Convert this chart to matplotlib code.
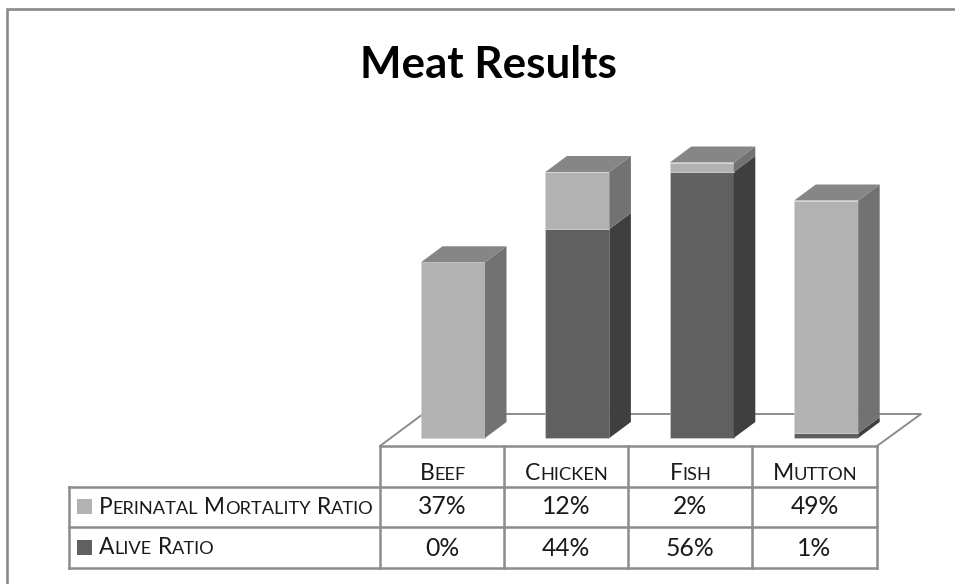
#!/usr/bin/env python3
"""Meat results: fake-3D stacked columns with a data table below."""

import matplotlib
matplotlib.use("Agg")
import matplotlib.pyplot as plt
from matplotlib.patches import Polygon, Rectangle

categories = ["Beef", "Chicken", "Fish", "Mutton"]
perinatal = [37, 12, 2, 49]
alive = [0, 44, 56, 1]
series_names = ["Perinatal Mortality Ratio", "Alive Ratio"]

W, H = 955, 584
FONT = "Lato"
LINE = "#8c8c8c"
LIGHT = ("#b2b2b2", "#727272")
DARK = ("#606060", "#3f3f3f")
TOP = "#868686"

PX_PER_PCT = 4.75
BASE_Y = 438
COL_W = 124.4
FIRST_X = 453
BAR_W = 64
DX, DY = 21.5, 16

fig = plt.figure(figsize=(W / 100, H / 100), dpi=100)
fig.patch.set_facecolor("white")

# overlay axes in pixels, y down, for frame and table
pax = fig.add_axes([0, 0, 1, 1])
pax.set_xlim(0, W)
pax.set_ylim(H, 0)
pax.axis("off")

# bar axes: x in category index, y in percent
ax = fig.add_axes([0, 0, 1, 1], facecolor="none")
ax.set_xlim(-FIRST_X / COL_W, (W - FIRST_X) / COL_W)
ax.set_ylim(-(H - BASE_Y) / PX_PER_PCT, BASE_Y / PX_PER_PCT)
ax.axis("off")

ddx = DX / COL_W
ddy = DY / PX_PER_PCT
hw = BAR_W / 2 / COL_W


def smallcaps(x, y, text, size, ha="left"):
    """Small caps by runs, since matplotlib has none."""
    runs = []
    for ch in text:
        big = not ch.islower()
        if runs and runs[-1][1] == big:
            runs[-1][0] += ch.upper()
        else:
            runs.append([ch.upper(), big])
    rend = fig.canvas.get_renderer()
    items = []
    total = 0
    for s, big in runs:
        t = pax.text(0, y, s.replace(" ", "\u00a0"), fontsize=size if big else size * 0.8,
                     family=FONT, color="#1a1a1a", va="baseline")
        w = t.get_window_extent(rend).width
        items.append((t, w))
        total += w
    cur = x - total / 2 if ha == "center" else x
    for t, w in items:
        t.set_x(cur)
        cur += w


# only the top and left edges of the chart frame show in the crop
pax.plot([W, 7, 7], [9, 9, H], color="#8a8a8a", lw=1.9, solid_joinstyle="miter")
pax.text(488, 65, "Meat Results", fontsize=31.7, fontweight="bold", family=FONT,
         color="black", ha="center", va="center")

# floor
cols_x = [380, 504, 628, 752, 877]
rows_y = [446, 487, 527, 568]
pax.plot([cols_x[0], cols_x[0] + 43, cols_x[-1] + 44, cols_x[-1]],
         [rows_y[0], 414, 414, rows_y[0]], color=LINE, lw=1.4)

# table grid
kw = dict(color=LINE, lw=1.8, solid_capstyle="projecting")
pax.plot([cols_x[0], cols_x[-1]], [rows_y[0]] * 2, **kw)
for yy in rows_y[1:]:
    pax.plot([69, cols_x[-1]], [yy, yy], **kw)
pax.plot([69, 69], [rows_y[1], rows_y[3]], **kw)
for xx in cols_x:
    pax.plot([xx, xx], [rows_y[0], rows_y[3]], **kw)

# stacked columns, dark at the bottom
for i in range(len(categories)):
    bottom = 0
    for val, (front, side) in zip([alive[i], perinatal[i]], [DARK, LIGHT]):
        if val == 0:
            continue
        ax.bar(i, val, BAR_W / COL_W, bottom=bottom, color=front, edgecolor="#d4d4d4", lw=0.4)
        ax.add_patch(Polygon([(i + hw, bottom), (i + hw + ddx, bottom + ddy),
                              (i + hw + ddx, bottom + val + ddy), (i + hw, bottom + val)],
                             fc=side, ec="none"))
        bottom += val
    ax.add_patch(Polygon([(i - hw, bottom), (i - hw + ddx, bottom + ddy),
                          (i + hw + ddx, bottom + ddy), (i + hw, bottom)], fc=TOP, ec="none"))

# table text
for i, name in enumerate(categories):
    smallcaps((cols_x[i] + cols_x[i + 1]) / 2 + 0.5, 479.5, name, 16.5, ha="center")
for r, vals in enumerate([perinatal, alive]):
    for i, v in enumerate(vals):
        pax.text((cols_x[i] + cols_x[i + 1]) / 2, 514.5 + r * 41, f"{v}%", fontsize=17.8,
                 family=FONT, color="#1a1a1a", ha="center", va="baseline")
    smallcaps(99, 513.5 + r * 41, series_names[r], 16.4)
    pax.add_patch(Rectangle((77, 499 + r * 41), 15, 14.5, fc=[LIGHT, DARK][r][0], ec="none"))

fig.savefig("out.png", dpi=100)
plt.close()
